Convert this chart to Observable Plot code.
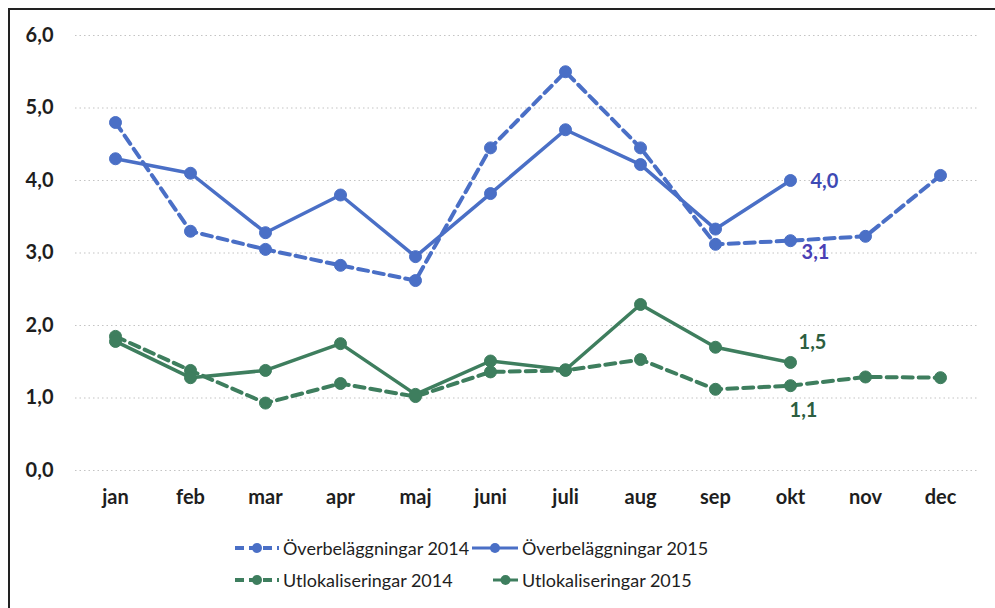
<!DOCTYPE html>
<html>
<head>
<meta charset="utf-8">
<script src="https://cdn.jsdelivr.net/npm/d3@7"></script>
<script src="https://cdn.jsdelivr.net/npm/@observablehq/plot@0.6"></script>
<style>
  html, body { margin: 0; padding: 0; background: #fff; }
  #wrap { position: relative; width: 995px; height: 608px; overflow: hidden; font-family: Lato, "Open Sans", sans-serif; }
  #frameL { position: absolute; left: 8px; top: 8px; width: 2px; height: 620px; background: #222; }
  #frameT { position: absolute; left: 8px; top: 8px; width: 1000px; height: 2px; background: #222; }
  #chart { position: absolute; left: 0; top: 0; }
  .leg { position: absolute; display: flex; align-items: center; font-size: 18px; color: #1e1e1e; white-space: nowrap; }
  .leg svg { display: block; margin-right: 4px; }
</style>
</head>
<body>
<div id="wrap">
  <div id="chart"></div>
  <div id="legend"></div>
  <div id="frameL"></div>
  <div id="frameT"></div>
</div>
<script>
const months = ["jan","feb","mar","apr","maj","juni","juli","aug","sep","okt","nov","dec"];
const yTicks = [0, 1, 2, 3, 4, 5, 6];

const seriesNames = ["Överbeläggningar 2014", "Överbeläggningar 2015", "Utlokaliseringar 2014", "Utlokaliseringar 2015"];
const over2014  = [4.8, 3.3, 3.05, 2.83, 2.62, 4.45, 5.5, 4.45, 3.12, 3.17, 3.23, 4.07];
const over2015  = [4.3, 4.1, 3.28, 3.8, 2.95, 3.82, 4.7, 4.22, 3.33, 4.0];
const utlok2014 = [1.85, 1.38, 0.93, 1.2, 1.02, 1.36, 1.38, 1.53, 1.12, 1.17, 1.29, 1.28];
const utlok2015 = [1.78, 1.28, 1.38, 1.75, 1.05, 1.51, 1.39, 2.29, 1.7, 1.49];

const labelTexts  = ["4,0", "3,1", "1,5", "1,1"];
const labelSeries = ["Överbeläggningar 2015", "Överbeläggningar 2014", "Utlokaliseringar 2015", "Utlokaliseringar 2014"];
const labelMonth  = "okt";

const blue = "#4a6fc6";
const green = "#3e7e5e";
const styles = {
  "Överbeläggningar 2014": {color: blue, dash: "10,6", width: 4},
  "Överbeläggningar 2015": {color: blue, dash: null, width: 3.5},
  "Utlokaliseringar 2014": {color: green, dash: "10,6", width: 4},
  "Utlokaliseringar 2015": {color: green, dash: null, width: 3.5}
};
const values = [over2014, over2015, utlok2014, utlok2015];

const rows = [];
seriesNames.forEach((s, i) => values[i].forEach((v, j) => rows.push({series: s, month: months[j], value: v})));

const labelRows = labelTexts.map((t, i) => {
  const r = rows.find(d => d.series === labelSeries[i] && d.month === labelMonth);
  return {text: t, month: r.month, value: r.value, series: r.series};
});
const labelOffsets = [
  {dx: 20, dy: 1, anchor: "start", fill: "#3e4ab4"},
  {dx: 25, dy: 12, anchor: "middle", fill: "#4a40b4"},
  {dx: 22, dy: -20, anchor: "middle", fill: "#2c5e40"},
  {dx: 13, dy: 25, anchor: "middle", fill: "#2c5e40"}
];

const fmt = d => d.toFixed(1).replace(".", ",");

const marks = [
  Plot.ruleY(yTicks, {stroke: "#c4c4c4", strokeWidth: 1.2, strokeDasharray: "1.5,3"})
];
const drawOrder = ["Utlokaliseringar 2014", "Utlokaliseringar 2015", "Överbeläggningar 2014", "Överbeläggningar 2015"];
for (const s of drawOrder) {
  const st = styles[s];
  const data = rows.filter(d => d.series === s);
  marks.push(Plot.line(data, {x: "month", y: "value", stroke: st.color, strokeWidth: st.width, strokeDasharray: st.dash, strokeLinejoin: "round"}));
  marks.push(Plot.dot(data, {x: "month", y: "value", r: 6, fill: st.color, stroke: st.color, strokeWidth: 1}));
}
labelRows.forEach((l, i) => {
  const o = labelOffsets[i];
  marks.push(Plot.text([l], {x: "month", y: "value", text: "text", dx: o.dx, dy: o.dy, textAnchor: o.anchor, fill: o.fill, fontSize: 20, fontWeight: "bold"}));
});

const chart = Plot.plot({
  width: 995,
  height: 515,
  marginLeft: 75,
  marginRight: 16,
  marginTop: 35,
  marginBottom: 45,
  style: {fontFamily: "Lato, 'Open Sans', sans-serif", fontSize: "20px", fontWeight: "bold", color: "#1e1e1e", background: "transparent"},
  x: {type: "point", domain: months, padding: 0.5, label: null, tickSize: 0, tickPadding: 19},
  y: {domain: [0, 6], ticks: yTicks, tickFormat: fmt, label: null, tickSize: 0, tickPadding: 22},
  marks
});
document.getElementById("chart").appendChild(chart);

// legend
const legendItems = [
  {name: seriesNames[0], left: 235, top: 548, sw: 44},
  {name: seriesNames[1], left: 472, top: 548, sw: 46},
  {name: seriesNames[2], left: 235, top: 580, sw: 44},
  {name: seriesNames[3], left: 493, top: 580, sw: 25}
];
const legend = document.getElementById("legend");
for (const it of legendItems) {
  const st = styles[it.name];
  const div = document.createElement("div");
  div.className = "leg";
  div.style.left = it.left + "px";
  div.style.top = (it.top - 13) + "px";
  const w = it.sw;
  const dash = st.dash ? `stroke-dasharray="9,5"` : "";
  div.innerHTML = `<svg width="${w}" height="26"><line x1="0" y1="13" x2="${w}" y2="13" stroke="${st.color}" stroke-width="${st.dash ? 4 : 3}" ${dash}/><circle cx="${w/2}" cy="13" r="5" fill="${st.color}"/></svg><span>${it.name}</span>`;
  legend.appendChild(div);
}
</script>
</body>
</html>
